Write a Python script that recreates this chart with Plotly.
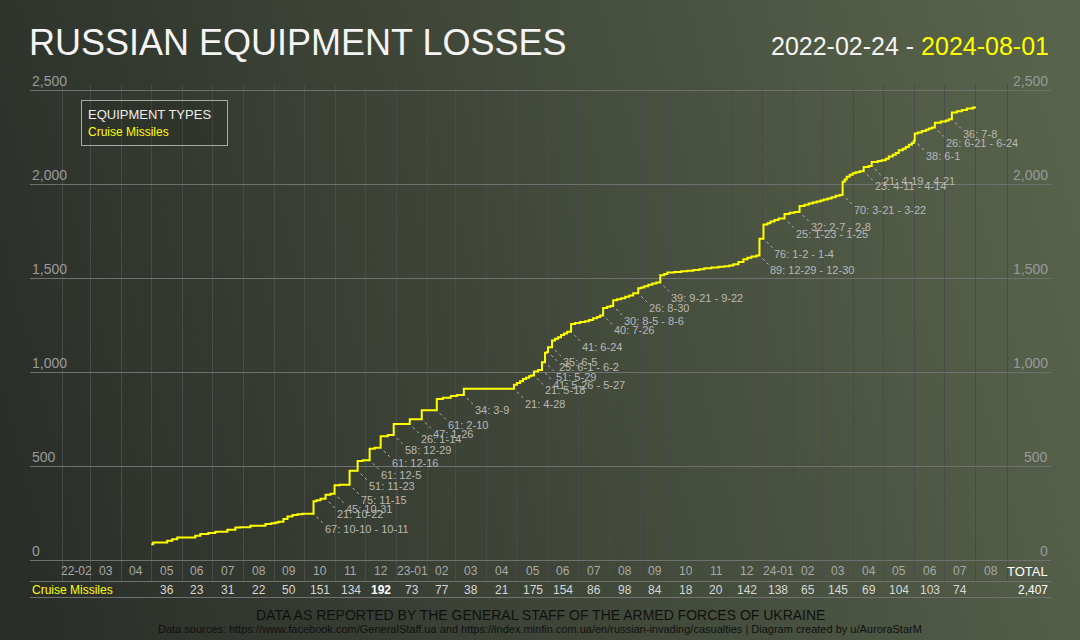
import base64
import pandas as pd
import plotly.graph_objects as go

# Cruise missiles, cumulative losses
start_date = "2022-05-01"
start_value = 84
end_date = "2024-08-01"

step_dates = [
    "2022-05-03", "2022-05-17", "2022-05-22", "2022-05-27",
    "2022-06-14", "2022-06-19", "2022-06-27",
    "2022-07-04", "2022-07-16", "2022-07-24", "2022-07-29",
    "2022-08-08", "2022-08-23", "2022-08-29",
    "2022-09-02", "2022-09-05", "2022-09-10", "2022-09-14", "2022-09-19", "2022-09-24", "2022-09-29",
    "2022-10-10", "2022-10-13", "2022-10-17", "2022-10-22", "2022-10-27", "2022-10-31",
    "2022-11-05", "2022-11-15", "2022-11-23", "2022-11-28",
    "2022-12-05", "2022-12-10", "2022-12-16", "2022-12-23", "2022-12-29",
    "2023-01-14", "2023-01-26",
    "2023-02-10", "2023-02-16", "2023-02-24",
    "2023-03-02", "2023-03-09",
    "2023-04-28",
    "2023-05-01", "2023-05-04", "2023-05-07", "2023-05-10", "2023-05-13", "2023-05-15",
    "2023-05-18", "2023-05-22", "2023-05-26", "2023-05-29", "2023-05-31",
    "2023-06-01", "2023-06-05", "2023-06-08", "2023-06-11", "2023-06-14", "2023-06-17",
    "2023-06-20", "2023-06-24", "2023-06-28",
    "2023-07-03", "2023-07-08", "2023-07-12", "2023-07-16", "2023-07-20", "2023-07-23",
    "2023-07-26", "2023-07-30",
    "2023-08-02", "2023-08-05", "2023-08-09", "2023-08-13", "2023-08-17", "2023-08-21",
    "2023-08-25", "2023-08-30",
    "2023-09-02", "2023-09-05", "2023-09-09", "2023-09-13", "2023-09-17", "2023-09-21",
    "2023-09-25", "2023-09-28",
    "2023-10-05", "2023-10-12", "2023-10-18", "2023-10-24", "2023-10-30",
    "2023-11-04", "2023-11-11", "2023-11-18", "2023-11-24", "2023-11-29",
    "2023-12-03", "2023-12-08", "2023-12-13", "2023-12-17", "2023-12-21", "2023-12-26", "2023-12-29",
    "2024-01-02", "2024-01-06", "2024-01-09", "2024-01-13", "2024-01-17", "2024-01-23", "2024-01-28",
    "2024-02-02", "2024-02-07", "2024-02-12", "2024-02-16", "2024-02-20", "2024-02-24", "2024-02-28",
    "2024-03-02", "2024-03-06", "2024-03-10", "2024-03-14", "2024-03-18", "2024-03-21",
    "2024-03-23", "2024-03-25", "2024-03-28", "2024-03-31",
    "2024-04-03", "2024-04-07", "2024-04-11", "2024-04-16", "2024-04-19", "2024-04-25", "2024-04-29",
    "2024-05-03", "2024-05-06", "2024-05-10", "2024-05-13", "2024-05-16", "2024-05-20",
    "2024-05-23", "2024-05-26", "2024-05-29", "2024-05-31",
    "2024-06-01", "2024-06-04", "2024-06-08", "2024-06-12", "2024-06-15", "2024-06-18",
    "2024-06-21", "2024-06-27",
    "2024-07-02", "2024-07-05", "2024-07-08", "2024-07-13", "2024-07-18", "2024-07-23", "2024-07-29",
]
step_sizes = [
    9, 9, 9, 9,
    9, 9, 5,
    7, 11, 12, 1,
    8, 9, 5,
    3, 4, 15, 14, 7, 5, 2,
    67, 5, 8, 21, 5, 45,
    3, 75, 51, 5,
    61, 5, 61, 7, 58,
    26, 47,
    61, 6, 10,
    4, 34,
    21,
    9, 10, 12, 6, 8, 5,
    21, 8, 41, 51, 4,
    25, 35, 10, 8, 12, 8,
    9, 41, 6,
    5, 4, 6, 10, 7, 8,
    40, 6,
    4, 30, 6, 5, 8, 7,
    12, 26,
    5, 6, 8, 7, 5, 39,
    6, 8,
    3, 4, 3, 4, 4,
    5, 4, 4, 3, 4,
    6, 12, 15, 8, 6, 6, 89,
    76, 6, 10, 7, 8, 25, 6,
    4, 32, 7, 6, 5, 6, 5,
    6, 5, 6, 8, 5, 70,
    12, 15, 10, 8,
    5, 6, 23, 5, 21, 5, 4,
    8, 12, 10, 9, 14, 8,
    10, 12, 9, 12,
    38, 6, 8, 7, 6, 5,
    26, 7,
    5, 6, 36, 7, 6, 8, 6,
]

# labelled jumps
jump_dates = [
    "2022-10-10", "2022-10-22", "2022-10-31", "2022-11-15", "2022-11-23",
    "2022-12-05", "2022-12-16", "2022-12-29", "2023-01-14", "2023-01-26",
    "2023-02-10", "2023-03-09", "2023-04-28", "2023-05-18", "2023-05-26",
    "2023-05-29", "2023-06-01", "2023-06-05", "2023-06-24", "2023-07-26",
    "2023-08-05", "2023-08-30", "2023-09-21", "2023-12-29", "2024-01-02",
    "2024-01-23", "2024-02-07", "2024-03-21", "2024-04-11", "2024-04-19",
    "2024-06-01", "2024-06-21", "2024-07-08",
]
jump_labels = [
    "67: 10-10 - 10-11", "21: 10-22", "45: 10-31", "75: 11-15", "51: 11-23",
    "61: 12-5", "61: 12-16", "58: 12-29", "26: 1-14", "47: 1-26",
    "61: 2-10", "34: 3-9", "21: 4-28", "21: 5-18", "41: 5-26 - 5-27",
    "51: 5-29", "25: 6-1 - 6-2", "35: 6-5", "41: 6-24", "40: 7-26",
    "30: 8-5 - 8-6", "26: 8-30", "39: 9-21 - 9-22", "89: 12-29 - 12-30", "76: 1-2 - 1-4",
    "25: 1-23 - 1-25", "32: 2-7 - 2-8", "70: 3-21 - 3-22", "23: 4-11 - 4-14", "21: 4-19 - 4-21",
    "38: 6-1", "26: 6-21 - 6-24", "36: 7-8",
]

# table under the chart
month_labels = [
    "22-02", "03", "04", "05", "06", "07", "08", "09", "10", "11", "12",
    "23-01", "02", "03", "04", "05", "06", "07", "08", "09", "10", "11", "12",
    "24-01", "02", "03", "04", "05", "06", "07", "08",
]
month_totals = [
    None, None, None, 36, 23, 31, 22, 50, 151, 134, 192,
    73, 77, 38, 21, 175, 154, 86, 98, 84, 18, 20, 142,
    138, 65, 145, 69, 104, 103, 74, None,
]
y_ticks = [0, 500, 1000, 1500, 2000, 2500]

FONT = "Liberation Sans, Arial, sans-serif"
W, H = 1080, 640


def px(x):
    return x / W


def py(y):
    return 1 - y / H


steps = pd.Series(step_sizes, index=pd.to_datetime(step_dates))
cum = start_value + steps.cumsum()
line_x = [pd.Timestamp(start_date)] + list(cum.index) + [pd.Timestamp(end_date)]
line_y = [start_value] + list(cum.values) + [int(cum.iloc[-1])]

# pixel geometry of the axes
first_month = pd.Timestamp("2022-02-01")
last_month = pd.Timestamp("2024-09-01")
x_left, x_right = 62, 1007
ppd = (x_right - x_left) / (last_month - first_month).days
x_range = [first_month - pd.Timedelta(days=(x_left - 30) / ppd),
           last_month + pd.Timedelta(days=(1051 - x_right) / ppd)]
ppu = (560 - 90) / 2500
y_range = [-(581 - 560) / ppu, 2500 + (90 - 85) / ppu]

month_starts = pd.date_range(first_month, last_month, freq="MS")
month_mids = [m + (n - m) / 2 for m, n in zip(month_starts[:-1], month_starts[1:])]

fig = go.Figure()
fig.add_trace(go.Scatter(
    x=line_x, y=line_y, mode="lines", line_shape="hv",
    line=dict(color="#ffff00", width=2), name="Cruise Missiles",
    showlegend=False, hoverinfo="x+y",
))

annotations = []
shapes = []
for d, lab in zip(jump_dates, jump_labels):
    t = pd.Timestamp(d)
    base = int(cum[t] - steps[t])
    shapes.append(dict(
        type="line", xref="x", yref="y", xsizemode="pixel", ysizemode="pixel",
        xanchor=d, yanchor=base, x0=3, x1=9, y0=-3, y1=-9,
        line=dict(color="#b4b4b4", width=1, dash="dot"),
    ))
    annotations.append(dict(
        x=d, y=base, xref="x", yref="y", text=lab, showarrow=False,
        xanchor="left", yanchor="top", xshift=9, yshift=-7,
        font=dict(size=11, color="#b8b8b8", family=FONT),
    ))

# y tick labels on both sides, sitting just above their grid lines
axis_font = dict(size=14, color="#9a9a9a", family=FONT)
for v in y_ticks:
    for xpos, anchor in ((px(30), "left"), (px(1050), "right")):
        annotations.append(dict(
            x=xpos, y=v, xref="paper", yref="y", text=f"{v:,}", showarrow=False,
            xanchor=anchor, yanchor="bottom", yshift=-1, font=axis_font,
        ))

best = max(v for v in month_totals if v is not None)
for mid, lab, val in zip(month_mids, month_labels, month_totals):
    annotations.append(dict(
        x=mid, y=py(571), xref="x", yref="paper", text=lab, showarrow=False,
        xanchor="center", yanchor="middle", font=dict(size=12, color="#a8a8a8", family=FONT),
    ))
    if val is not None:
        txt = f"<b>{val}</b>" if val == best else str(val)
        annotations.append(dict(
            x=mid, y=py(590), xref="x", yref="paper", text=txt, showarrow=False,
            xanchor="center", yanchor="middle",
            font=dict(size=12, color="#ffffff" if val == best else "#d6d6d6", family=FONT),
        ))

annotations += [
    dict(x=px(1050), y=py(571), xref="paper", yref="paper", text="TOTAL", showarrow=False,
         xanchor="right", yanchor="middle", font=dict(size=13, color="#ffffff", family=FONT)),
    dict(x=px(30), y=py(590), xref="paper", yref="paper", text="Cruise Missiles", showarrow=False,
         xanchor="left", yanchor="middle", font=dict(size=12, color="#ffff00", family=FONT)),
    dict(x=px(1050), y=py(590), xref="paper", yref="paper", text=f"{int(cum.iloc[-1]):,}",
         showarrow=False, xanchor="right", yanchor="middle",
         font=dict(size=12, color="#ffffff", family=FONT)),
    dict(x=px(27), y=py(42), xref="paper", yref="paper", text="RUSSIAN EQUIPMENT LOSSES",
         showarrow=False, xanchor="left", yanchor="middle",
         font=dict(size=36, color="#f4f4f4", family=FONT)),
    dict(x=px(1051), y=py(46), xref="paper", yref="paper",
         text="2022-02-24 - <span style='color:#ffff00'>2024-08-01</span>",
         showarrow=False, xanchor="right", yanchor="middle",
         font=dict(size=25, color="#f4f4f4", family=FONT)),
    dict(x=px(81), y=py(100), xref="paper", yref="paper",
         text="EQUIPMENT TYPES<br><span style='color:#ffff00;font-size:12px'>Cruise Missiles</span>",
         showarrow=False, xanchor="left", yanchor="top", align="left", width=133,
         bordercolor="#a8a8a8", borderwidth=1, borderpad=6, bgcolor="rgba(30,34,28,0.25)",
         font=dict(size=13, color="#ececec", family=FONT)),
    dict(x=px(540), y=py(615), xref="paper", yref="paper",
         text="DATA AS REPORTED BY THE GENERAL STAFF OF THE ARMED FORCES OF UKRAINE",
         showarrow=False, xanchor="center", yanchor="middle",
         font=dict(size=14, color="#101010", family=FONT)),
    dict(x=px(540), y=py(629), xref="paper", yref="paper",
         text="Data sources: https://www.facebook.com/GeneralStaff.ua and "
              "https://index.minfin.com.ua/en/russian-invading/casualties | Diagram created by u/AuroraStarM",
         showarrow=False, xanchor="center", yanchor="middle",
         font=dict(size=11, color="#101010", family=FONT)),
]

shapes.append(dict(type="line", xref="paper", yref="paper", x0=px(30), x1=px(1051),
                   y0=py(597.5), y1=py(597.5), line=dict(color="#707070", width=1)))

svg = (
    "<svg xmlns='http://www.w3.org/2000/svg' width='1080' height='640'>"
    "<defs><linearGradient id='g' gradientUnits='userSpaceOnUse' x1='0' y1='460' x2='1080' y2='180'>"
    "<stop offset='0' stop-color='#2a2e29'/><stop offset='1' stop-color='#58634b'/>"
    "</linearGradient></defs><rect width='1080' height='640' fill='url(#g)'/></svg>"
)
bg = "data:image/svg+xml;base64," + base64.b64encode(svg.encode()).decode()

fig.update_layout(
    width=W, height=H,
    margin=dict(l=0, r=0, t=0, b=0),
    paper_bgcolor="#3c4236",
    plot_bgcolor="rgba(0,0,0,0)",
    font=dict(family=FONT),
    images=[dict(source=bg, xref="paper", yref="paper", x=0, y=1, sizex=1, sizey=1,
                 xanchor="left", yanchor="top", sizing="stretch", layer="below")],
    xaxis=dict(
        type="date", domain=[px(30), px(1051)], range=x_range,
        tickvals=list(month_starts), showticklabels=False, ticks="",
        showgrid=True, gridcolor="#4a4a4a", gridwidth=1, zeroline=False,
        showline=True, linecolor="#707070", linewidth=1, mirror=False,
    ),
    yaxis=dict(
        domain=[py(581), py(85)], range=y_range, tickvals=y_ticks,
        showgrid=True, gridcolor="#707070", gridwidth=1, zeroline=False,
        showticklabels=False, ticks="", showline=False,
    ),
    annotations=annotations,
    shapes=shapes,
    showlegend=False,
)

fig.write_html("out.html", config={"displayModeBar": False},
               post_script="document.body.style.margin='0';")
